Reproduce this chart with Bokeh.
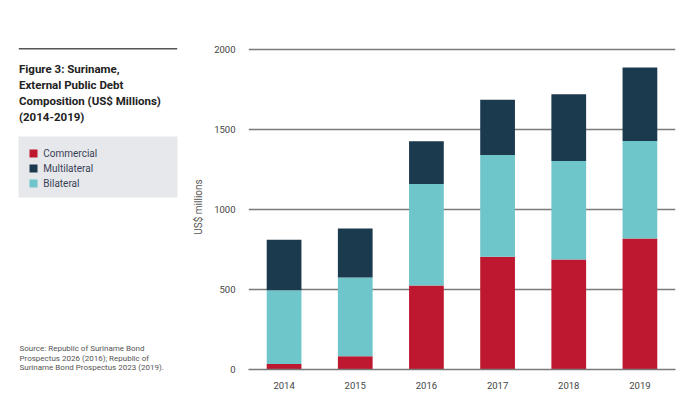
from bokeh.plotting import figure
from bokeh.layouts import row
from bokeh.models import (FactorRange, Range1d, Label, BoxAnnotation, Legend, LegendItem,
                          FixedTicker, ColumnDataSource)
from bokeh.embed import file_html
from bokeh.resources import INLINE

years = ["2014", "2015", "2016", "2017", "2018", "2019"]
commercial = [35, 83, 525, 704, 687, 819]
bilateral = [460, 492, 633, 636, 615, 608]
multilateral = [315, 306, 267, 345, 417, 459]
series = ["Commercial", "Bilateral", "Multilateral"]
series_labels = ["Commercial", "Multilateral", "Bilateral"]
colors = {"Commercial": "#BE1830", "Bilateral": "#6EC5CA", "Multilateral": "#1B3A4E"}
y_ticks = [0, 500, 1000, 1500, 2000]

title_lines = ["Figure 3: Suriname,", "External Public Debt",
               "Composition (US$ Millions)", "(2014-2019)"]
source_lines = ["Source: Republic of Suriname Bond",
                "Prospectus 2026 (2016); Republic of",
                "Suriname Bond Prospectus 2023 (2019)."]

FONT = "Roboto"

source = ColumnDataSource(dict(years=years, Commercial=commercial,
                               Bilateral=bilateral, Multilateral=multilateral))

# ---------------- main chart ----------------
p = figure(width=494, height=394, output_backend="svg", toolbar_location=None,
           x_range=FactorRange(*years, range_padding=0), y_range=Range1d(0, 2030),
           min_border_left=54, min_border_right=9, min_border_top=44, min_border_bottom=25)
p.outline_line_color = None
p.frame_align = False

renderers = p.vbar_stack(series, x="years", width=0.488, source=source,
                         color=[colors[s] for s in series], line_color=None)

p.xgrid.grid_line_color = None
p.ygrid.grid_line_color = "#7a7a7a"
p.ygrid.grid_line_width = 1.5
p.yaxis.ticker = FixedTicker(ticks=y_ticks)

p.yaxis.axis_line_color = None
p.yaxis.major_tick_line_color = None
p.yaxis.minor_tick_line_color = None
p.yaxis.major_label_standoff = 7
p.yaxis.major_label_text_font = FONT
p.yaxis.major_label_text_font_size = "9.5px"
p.yaxis.major_label_text_color = "#444444"
p.yaxis.axis_label = "US$ millions"
p.yaxis.axis_label_text_font = FONT
p.yaxis.axis_label_text_font_size = "10px"
p.yaxis.axis_label_text_font_style = "normal"
p.yaxis.axis_label_text_color = "#555555"
p.yaxis.axis_label_standoff = 7

p.xaxis.axis_line_color = "#7a7a7a"
p.xaxis.axis_line_width = 1.5
p.xaxis.major_tick_line_color = None
p.xaxis.minor_tick_line_color = None
p.xaxis.major_label_standoff = 6
p.xaxis.major_label_text_font = FONT
p.xaxis.major_label_text_font_size = "9.5px"
p.xaxis.major_label_text_color = "#444444"

# ---------------- left panel ----------------
L = figure(width=190, height=394, output_backend="svg", toolbar_location=None,
           x_range=Range1d(0, 190), y_range=Range1d(394, 0),
           x_axis_location=None, y_axis_location=None,
           min_border_left=0, min_border_right=0, min_border_top=0, min_border_bottom=0)
L.outline_line_color = None
L.xgrid.grid_line_color = None
L.ygrid.grid_line_color = None
L.frame_align = False

L.add_layout(BoxAnnotation(left=18.3, right=176.7, top=47.6, bottom=49.1,
                           fill_color="#555555", fill_alpha=1, line_color=None))
for i, t in enumerate(title_lines):
    L.add_layout(Label(x=18.5, y=68.3 + i * 16.1, text=t, text_font=FONT,
                       text_font_size="11.5px", text_font_style="bold",
                       text_color="#222222", text_baseline="middle"))

L.add_layout(BoxAnnotation(left=18, right=177, top=136, bottom=197,
                           fill_color="#E6E8EC", fill_alpha=1, line_color=None))

# legend-only renderers (zero-size, nothing visible)
dummy = ColumnDataSource(dict(x=[0], top=[0]))
legend_renderers = {s: L.vbar(x="x", top="top", bottom="top", width=0, source=dummy,
                              color=colors[s], line_color=None) for s in series_labels}
legend = Legend(items=[LegendItem(label=s, renderers=[legend_renderers[s]]) for s in series_labels],
                location=(28.3, 205), margin=0, padding=0, spacing=3,
                glyph_width=10, glyph_height=10, label_height=12, label_standoff=5,
                label_text_font=FONT, label_text_font_size="10px",
                label_text_color="#3a3f55", background_fill_alpha=0,
                border_line_color=None)
L.add_layout(legend)

for i, t in enumerate(source_lines):
    L.add_layout(Label(x=19, y=347.7 + i * 9.8, text=t, text_font=FONT,
                       text_font_size="8px", text_color="#555555", text_baseline="middle"))

layout = row(L, p, spacing=0)
open("out.html", "w").write(file_html(layout, INLINE))
